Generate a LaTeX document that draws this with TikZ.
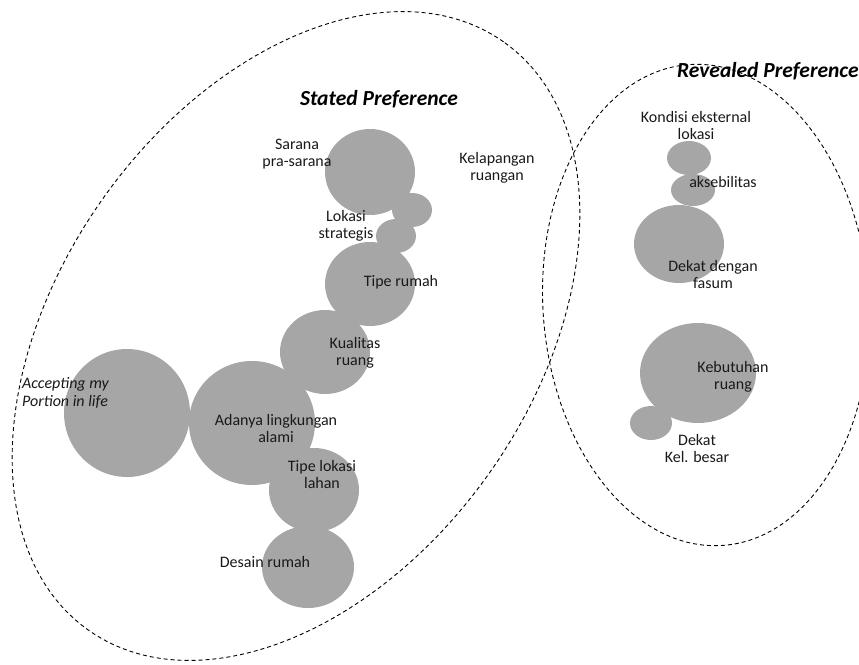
\documentclass[tikz,border=0pt]{standalone}
\usepackage{fontspec}
\setmainfont{Carlito}
\usetikzlibrary{shapes.geometric}
\definecolor{blobgray}{HTML}{A6A6A6}
\tikzset{
  blob/.style={ellipse, fill=blobgray, draw=none, inner sep=0pt},
  lbl/.style={font=\fontsize{16}{17}\selectfont, align=center, inner sep=0pt, text=black!90},
  ttl/.style={font=\fontsize{21.5}{24}\selectfont\bfseries\itshape, inner sep=0pt},
  bound/.style={dashed, dash pattern=on 4pt off 3pt, line width=0.9pt}
}
\begin{document}
\begin{tikzpicture}[x=1pt,y=1pt]
\useasboundingbox (0,0) rectangle (859,-664);
% group outlines
\draw[bound] (296,-336) ellipse[x radius=360, y radius=237, rotate=54.8];
\draw[bound] (706,-305) ellipse[x radius=163, y radius=241, rotate=4];
% stated preference blobs
\node[blob, minimum width=90, minimum height=86] (sarana) at (370,-172) {};
\node[blob, minimum width=40, minimum height=34] (kelap) at (412,-210) {};
\node[blob, minimum width=40, minimum height=34] (lokasi) at (396,-236) {};
\node[blob, minimum width=90, minimum height=84] (tiperumah) at (370,-284) {};
\node[blob, minimum width=90, minimum height=84] (kualitas) at (325,-352) {};
\node[blob, minimum width=126, minimum height=128] (accept) at (127,-413) {};
\node[blob, minimum width=126, minimum height=124] (adanya) at (252,-423) {};
\node[blob, minimum width=90, minimum height=84] (tipelokasi) at (314,-490) {};
\node[blob, minimum width=92, minimum height=82] (desain) at (308,-567) {};
% revealed preference blobs
\node[blob, minimum width=44, minimum height=34] (kondisi) at (689,-158) {};
\node[blob, minimum width=44, minimum height=32] (akses) at (693,-190) {};
\node[blob, minimum width=90, minimum height=78] (fasum) at (679,-244) {};
\node[blob, minimum width=116, minimum height=100] (kebutuhan) at (698,-373) {};
\node[blob, minimum width=42, minimum height=34] (kelbesar) at (651,-423) {};
% titles
\node[ttl] (tstated) at (379,-99) {Stated Preference};
\node[ttl] (trevealed) at (768,-71) {Revealed Preference};
% labels
\node[lbl] (lsarana) at (297,-154) {Sarana\\pra-sarana};
\node[lbl] (lkelap) at (497,-168) {Kelapangan\\ruangan};
\node[lbl] (llokasi) at (346,-226) {Lokasi\\strategis};
\node[lbl] (ltiperumah) at (401,-282) {Tipe rumah};
\node[lbl] (lkualitas) at (355,-353) {Kualitas\\ruang};
\node[lbl, align=left, anchor=west, font=\fontsize{16}{18}\selectfont\itshape] (laccept) at (22,-393) {Accepting my\\Portion in life};
\node[lbl] (ladanya) at (276,-428) {Adanya lingkungan\\alami};
\node[lbl] (ltipelokasi) at (322,-474) {Tipe lokasi\\lahan};
\node[lbl] (ldesain) at (265,-562) {Desain rumah};
\node[lbl] (lkondisi) at (696,-126) {Kondisi eksternal\\lokasi};
\node[lbl] (lakses) at (723,-182) {aksebilitas};
\node[lbl] (lfasum) at (713,-274) {Dekat dengan\\fasum};
\node[lbl] (lkebutuhan) at (733,-377) {Kebutuhan\\ruang};
\node[lbl] (lkelbesar) at (697,-449) {Dekat\\Kel. besar};
\end{tikzpicture}
\end{document}
